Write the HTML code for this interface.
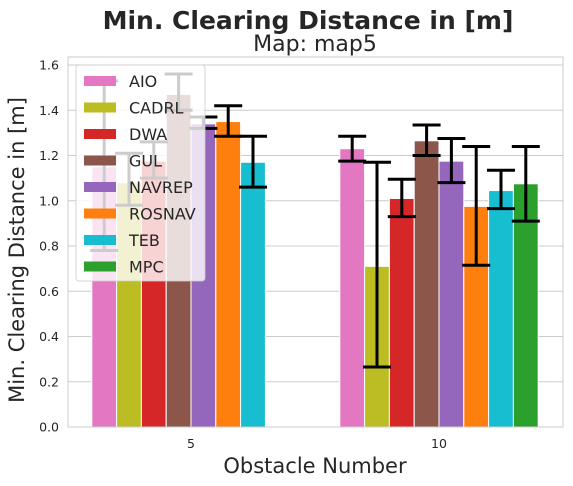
<!DOCTYPE html>
<html><head><meta charset="utf-8"><style>
body{margin:0;background:#fff;}
svg{display:block;font-family:"DejaVu Sans","Liberation Sans",sans-serif;}
</style></head><body>
<svg id="chart" width="573" height="486" viewBox="0 0 573 486" xmlns="http://www.w3.org/2000/svg">
<text x="308" y="29" text-anchor="middle" font-size="25" font-weight="bold" fill="#262626">Min. Clearing Distance in [m]</text>
<text x="315" y="51" text-anchor="middle" font-size="22" fill="#262626">Map: map5</text>
<g id="grid"></g>
<g id="bars"></g>
<g id="errs"></g>
<rect x="68" y="57" width="495" height="370" fill="none" stroke="#cccccc" stroke-width="1"/>
<g id="axes"></g>
<text transform="translate(24,250) rotate(-90)" text-anchor="middle" font-size="21" fill="#262626">Min. Clearing Distance in [m]</text>
<text x="315" y="473" text-anchor="middle" font-size="21" fill="#262626">Obstacle Number</text>
<g id="legend"></g>
</svg>
<script>
const categories = ["5","10"];
const series = ["AIO","CADRL","DWA","GUL","NAVREP","ROSNAV","TEB","MPC"];
const colors = ["#e377c2","#bcbd22","#d62728","#8c564b","#9467bd","#ff7f0e","#17becf","#2ca02c"];
const values5 = [1.15,1.08,1.175,1.47,1.34,1.35,1.17,null];
const lo5 = [0.78,0.98,1.10,1.40,1.32,1.285,1.06,null];
const hi5 = [1.53,1.21,1.26,1.56,1.37,1.42,1.285,null];
const values10 = [1.23,0.71,1.01,1.265,1.175,0.975,1.045,1.075];
const lo10 = [1.175,0.265,0.93,1.20,1.08,0.715,0.965,0.91];
const hi10 = [1.285,1.17,1.095,1.335,1.275,1.24,1.135,1.24];
const yTicks = [0,0.2,0.4,0.6,0.8,1.0,1.2,1.4,1.6];
const vals=[values5,values10], los=[lo5,lo10], his=[hi5,hi10];
const NS="http://www.w3.org/2000/svg";
const y=v=>427-v*226.25;
const catX=i=>191+i*248;
const bw=24.8;
function mk(tag,attrs,parent){const e=document.createElementNS(NS,tag);for(const k in attrs)e.setAttribute(k,attrs[k]);document.getElementById(parent).appendChild(e);return e;}
yTicks.forEach(t=>{
  const g=mk('line',{x1:68,x2:563,y1:y(t),y2:y(t),stroke:'#cccccc','stroke-width':1},'grid');
  
  
  const l=mk('text',{x:59,y:y(t)+4.5,'text-anchor':'end','font-size':12.5,fill:'#262626'},'axes');
  l.textContent=t.toFixed(1);
  
  
});
categories.forEach((c,i)=>{
  const l=mk('text',{x:catX(i),y:448,'text-anchor':'middle','font-size':12.5,fill:'#262626'},'axes');
  l.textContent=c;
  
  
  series.forEach((s,j)=>{
    const v=vals[i][j]; if(v==null) return;
    const x0=catX(i)-4*bw+j*bw;
    const r=mk('rect',{x:x0,y:y(v),width:bw,height:427-y(v),fill:colors[j],stroke:'#fff','stroke-width':1},'bars');
    
    
    const cx=x0+bw/2, a=y(los[i][j]), b=y(his[i][j]);
    const e=mk('path',{d:`M${cx},${a}V${b}M${cx-14},${a}H${cx+14}M${cx-14},${b}H${cx+14}`,stroke:'#000','stroke-width':3,fill:'none'},'errs');
    
    
  });
});
const bg=mk('rect',{x:76,y:65,width:129,height:216,rx:3,fill:'#fff','fill-opacity':0.8,stroke:'#cccccc','stroke-opacity':0.8},'legend');


series.forEach((s,j)=>{
  const yy=81+j*26.5;
  const p=mk('rect',{x:84,y:yy-5,width:32,height:10,fill:colors[j]},'legend');
  
  
  const t=mk('text',{x:129,y:yy+6,'font-size':16,fill:'#262626'},'legend');
  t.textContent=s;
  
  
});
</script>
</body></html>
